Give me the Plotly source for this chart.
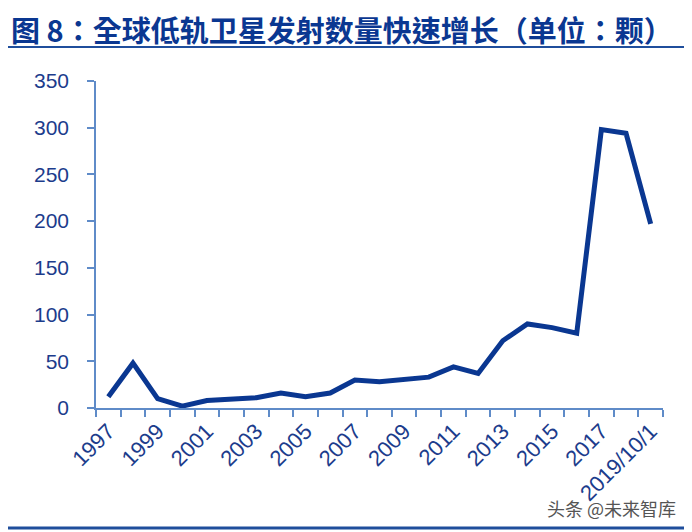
import plotly.graph_objects as go

# data
years = ["1997", "1998", "1999", "2000", "2001", "2002", "2003", "2004", "2005",
         "2006", "2007", "2008", "2009", "2010", "2011", "2012", "2013", "2014",
         "2015", "2016", "2017", "2018", "2019/10/1"]
launches = [12, 48, 10, 2, 8, 10, 11, 16, 12, 16, 30, 28, 30, 33, 44, 37,
            72, 90, 86, 80, 298, 294, 197]
y_ticks = [0, 50, 100, 150, 200, 250, 300, 350]

title_text = "图 8：全球低轨卫星发射数量快速增长（单位：颗）"
source_text = "头条 @未来智库"

# page has an 8px body margin, so the figure is drawn 8px smaller and
# every position below is given in page pixels and shifted back
OFF = 8
W, H = 692 - OFF, 532 - OFF
L, T = 96 - OFF, 81 - OFF
R, B = W - (663 - OFF), H - (408 - OFF)
pw, ph = W - L - R, H - T - B


def px_x(x):
    return (x - OFF - L) / pw


def px_y(y):
    return 1 - (y - OFF - T) / ph


navy = "#0a3791"
axis_blue = "#5f8bc8"
label_blue = "#1c3c8c"

# every other year gets a label
tick_text = [y if i % 2 == 0 else "" for i, y in enumerate(years)]

fig = go.Figure()
fig.add_trace(go.Scatter(x=years, y=launches, mode="lines",
                         line=dict(color=navy, width=5), hoverinfo="x+y"))

fig.update_layout(
    width=W, height=H,
    margin=dict(l=L, r=R, t=T, b=B, autoexpand=False),
    paper_bgcolor="white", plot_bgcolor="white",
    showlegend=False,
    font=dict(family="Liberation Sans, Arial, sans-serif", color=label_blue, size=20),
)

fig.update_xaxes(type="category", range=[-0.5, len(years) - 0.5], automargin=False,
                 tickson="boundaries", ticks="outside", ticklen=7, tickwidth=1.5,
                 tickcolor=axis_blue, showline=True, linecolor=axis_blue, linewidth=1.5,
                 tickvals=years, ticktext=tick_text, tickangle=-45,
                 showgrid=False, zeroline=False, tickfont=dict(size=22, color=label_blue))
fig.update_yaxes(range=[0, 350], tickvals=y_ticks, ticks="outside", ticklen=7,
                 automargin=False,
                 tickwidth=1.5, tickcolor=axis_blue, showline=True, linecolor=axis_blue,
                 linewidth=1.5, showgrid=False, zeroline=False, ticklabelstandoff=14,
                 tickfont=dict(size=21, color=label_blue))

# title and separator lines
fig.add_annotation(text="<b>" + title_text + "</b>", xref="paper", yref="paper",
                   x=px_x(10), y=px_y(51), xanchor="left", yanchor="bottom",
                   showarrow=False, borderpad=0,
                   font=dict(family="Noto Sans CJK TC, sans-serif", size=29, color=navy))
fig.add_shape(type="line", xref="paper", yref="paper",
              x0=px_x(OFF), x1=px_x(688), y0=px_y(47), y1=px_y(47),
              line=dict(color="#1f4e9c", width=2))
fig.add_shape(type="line", xref="paper", yref="paper",
              x0=px_x(OFF), x1=px_x(688), y0=px_y(528), y1=px_y(528),
              line=dict(color="#1f4e9c", width=3))

fig.add_annotation(text=source_text, xref="paper", yref="paper",
                   x=px_x(678), y=px_y(508), xanchor="right", yanchor="middle",
                   showarrow=False,
                   font=dict(family="Noto Sans CJK SC, sans-serif", size=18, color="#555555"))

fig.write_html("out.html")
